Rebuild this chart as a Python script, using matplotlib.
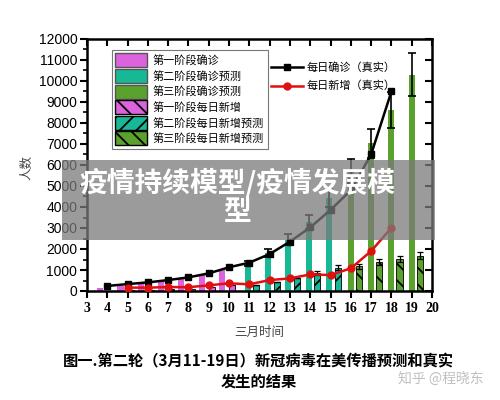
import matplotlib.pyplot as plt
import matplotlib.patches as mpatches
from matplotlib.lines import Line2D
from matplotlib.ticker import MultipleLocator

plt.rcParams['font.family'] = ['Noto Sans CJK SC', 'DejaVu Sans']
plt.rcParams['hatch.linewidth'] = 1.3

# 第一阶段 (3/4 - 3/10)
days1 = [4, 5, 6, 7, 8, 9, 10]
conf1 = [160, 240, 320, 480, 600, 760, 1000]
new1 = [20, 40, 60, 80, 110, 200, 300]

# 第二阶段预测 (3/11 - 3/15)
days2 = [11, 12, 13, 14, 15]
conf2 = [1300, 1800, 2450, 3300, 4440]
new2 = [290, 440, 600, 870, 1110]

# 第三阶段预测 (3/16 - 3/19)
days3 = [16, 17, 18, 19]
conf3 = [5700, 7030, 8630, 10300]
new3 = [1190, 1370, 1510, 1680]

# 真实数据
real_days = [4, 5, 6, 7, 8, 9, 10, 11, 12, 13, 14, 15, 16, 17, 18]
real_conf = [240, 330, 410, 520, 650, 840, 1130, 1350, 1760, 2350, 3030, 3860, 4800, 6500, 9500]
new_days = [5, 6, 7, 8, 9, 10, 11, 12, 13, 14, 15, 16, 17, 18]
real_new = [160, 160, 190, 180, 270, 365, 320, 520, 600, 790, 760, 1080, 1900, 3010]

pink = '#DD62DD'
teal = '#16B895'
green = '#5BA12D'
w = 0.3

fig = plt.figure(figsize=(5, 4), dpi=100)
ax = fig.add_axes([0.174, 0.2725, 0.69, 0.63])

ax.bar([d - 0.35 for d in days1], conf1, w, color=pink, zorder=2)
ax.bar([d - 0.08 for d in days2], conf2, w, color=teal, zorder=2,
       yerr=[c * 0.1 for c in conf2], capsize=3, error_kw=dict(ecolor='black', elinewidth=1.2, capthick=1.2))
ax.bar(days3, conf3, w, color=green, zorder=2,
       yerr=[c * 0.1 for c in conf3], capsize=3, error_kw=dict(ecolor='black', elinewidth=1.2, capthick=1.2))

ax.bar([d + 0.15 for d in days1], new1, w, color=pink, edgecolor='black', linewidth=0.6,
       hatch='\\\\', zorder=2)
ax.bar([d + 0.35 for d in days2], new2, w, color=teal, edgecolor='black', linewidth=0.6,
       hatch='//', zorder=2,
       yerr=[0, 0, 0] + [c * 0.1 for c in new2[3:]], capsize=2.5,
       error_kw=dict(ecolor='black', elinewidth=0.9, capthick=0.9))
ax.bar([d + 0.4 for d in days3], new3, w, color=green, edgecolor='black', linewidth=0.6,
       hatch='\\\\', zorder=2,
       yerr=[c * 0.1 for c in new3], capsize=2.5,
       error_kw=dict(ecolor='black', elinewidth=0.9, capthick=0.9))

ax.plot(real_days, real_conf, color='black', lw=1.8, marker='s', ms=5, zorder=4)
ax.plot(new_days, real_new, color='#E01010', lw=1.8, marker='o', ms=5, zorder=4)

ax.set_xlim(3, 20)
ax.set_ylim(0, 12000)
ax.xaxis.set_major_locator(MultipleLocator(1))
ax.yaxis.set_major_locator(MultipleLocator(1000))
ax.yaxis.set_minor_locator(MultipleLocator(500))
for s in ax.spines.values():
    s.set_linewidth(1.8)
ax.tick_params(axis='x', which='major', direction='out', length=5, width=1.5, pad=3,
               top=True, labeltop=False)
ax.tick_params(axis='y', which='major', direction='out', length=5, width=1.5, pad=2,
               right=True, labelright=False)
ax.tick_params(axis='y', which='minor', direction='out', length=3, width=1.2)
for t in ax.xaxis.get_major_ticks():
    t.tick2line.set_marker(3)  # inward top ticks
for t in ax.yaxis.get_major_ticks():
    t.tick2line.set_marker(0)  # inward right ticks

for lb in ax.get_xticklabels():
    lb.set_fontfamily('Liberation Serif')
    lb.set_fontweight('bold')
    lb.set_fontsize(10)
for lb in ax.get_yticklabels():
    lb.set_fontfamily('Liberation Sans')
    lb.set_fontsize(10)

ax.set_xlabel('三月时间', fontsize=9, color='#444444', labelpad=8)
ax.set_ylabel('人数', fontsize=9, color='#444444')
ax.yaxis.set_label_coords(-0.155, 0.49)

handles1 = [
    mpatches.Patch(facecolor=pink, edgecolor='#555555', label='第一阶段确诊'),
    mpatches.Patch(facecolor=teal, edgecolor='#555555', label='第二阶段确诊预测'),
    mpatches.Patch(facecolor=green, edgecolor='#555555', label='第三阶段确诊预测'),
    mpatches.Patch(facecolor=pink, edgecolor='black', hatch='\\\\', label='第一阶段每日新增'),
    mpatches.Patch(facecolor=teal, edgecolor='black', hatch='//', label='第二阶段每日新增预测'),
    mpatches.Patch(facecolor=green, edgecolor='black', hatch='\\\\', label='第三阶段每日新增预测'),
]
leg1 = ax.legend(handles=handles1, loc='upper left', bbox_to_anchor=(0.072, 0.956),
                 borderaxespad=0, fontsize=8, frameon=True, fancybox=False,
                 edgecolor='#555555', handlelength=2.9, handleheight=1.55,
                 labelspacing=0.15, handletextpad=0.5, borderpad=0.3)
leg1.get_frame().set_linewidth(0.8)
ax.add_artist(leg1)

handles2 = [
    Line2D([], [], color='black', lw=1.8, marker='s', ms=5, label='每日确诊（真实）'),
    Line2D([], [], color='#E01010', lw=1.8, marker='o', ms=5, label='每日新增（真实）'),
]
ax.legend(handles=handles2, loc='upper left', bbox_to_anchor=(0.52, 0.925),
          borderaxespad=0, fontsize=8, frameon=False, handlelength=2.9,
          labelspacing=0.7, handletextpad=0.3)

# grey banner over the chart
fig.patches.append(mpatches.Rectangle((0.124, 0.4), 0.746, 0.2, transform=fig.transFigure,
                                      facecolor='#7a7a7a', alpha=0.75, zorder=10))
fig.text(0.474, 0.5425, '疫情持续模型/疫情发展模', color='white', fontsize=20,
         fontweight='bold', ha='center', va='center', zorder=11)
fig.text(0.474, 0.4695, '型', color='white', fontsize=20,
         fontweight='bold', ha='center', va='center', zorder=11)

fig.text(0.517, 0.0958, '图一.第二轮（3月11-19日）新冠病毒在美传播预测和真实',
         fontsize=11, fontweight='bold', ha='center', va='center')
fig.text(0.518, 0.046, '发生的结果', fontsize=11, fontweight='bold', ha='center', va='center')
fig.text(0.882, 0.0525, '知乎 @程晓东', fontsize=10, color='#c0c0c0', ha='center', va='center')

fig.savefig('out.png', dpi=100)
